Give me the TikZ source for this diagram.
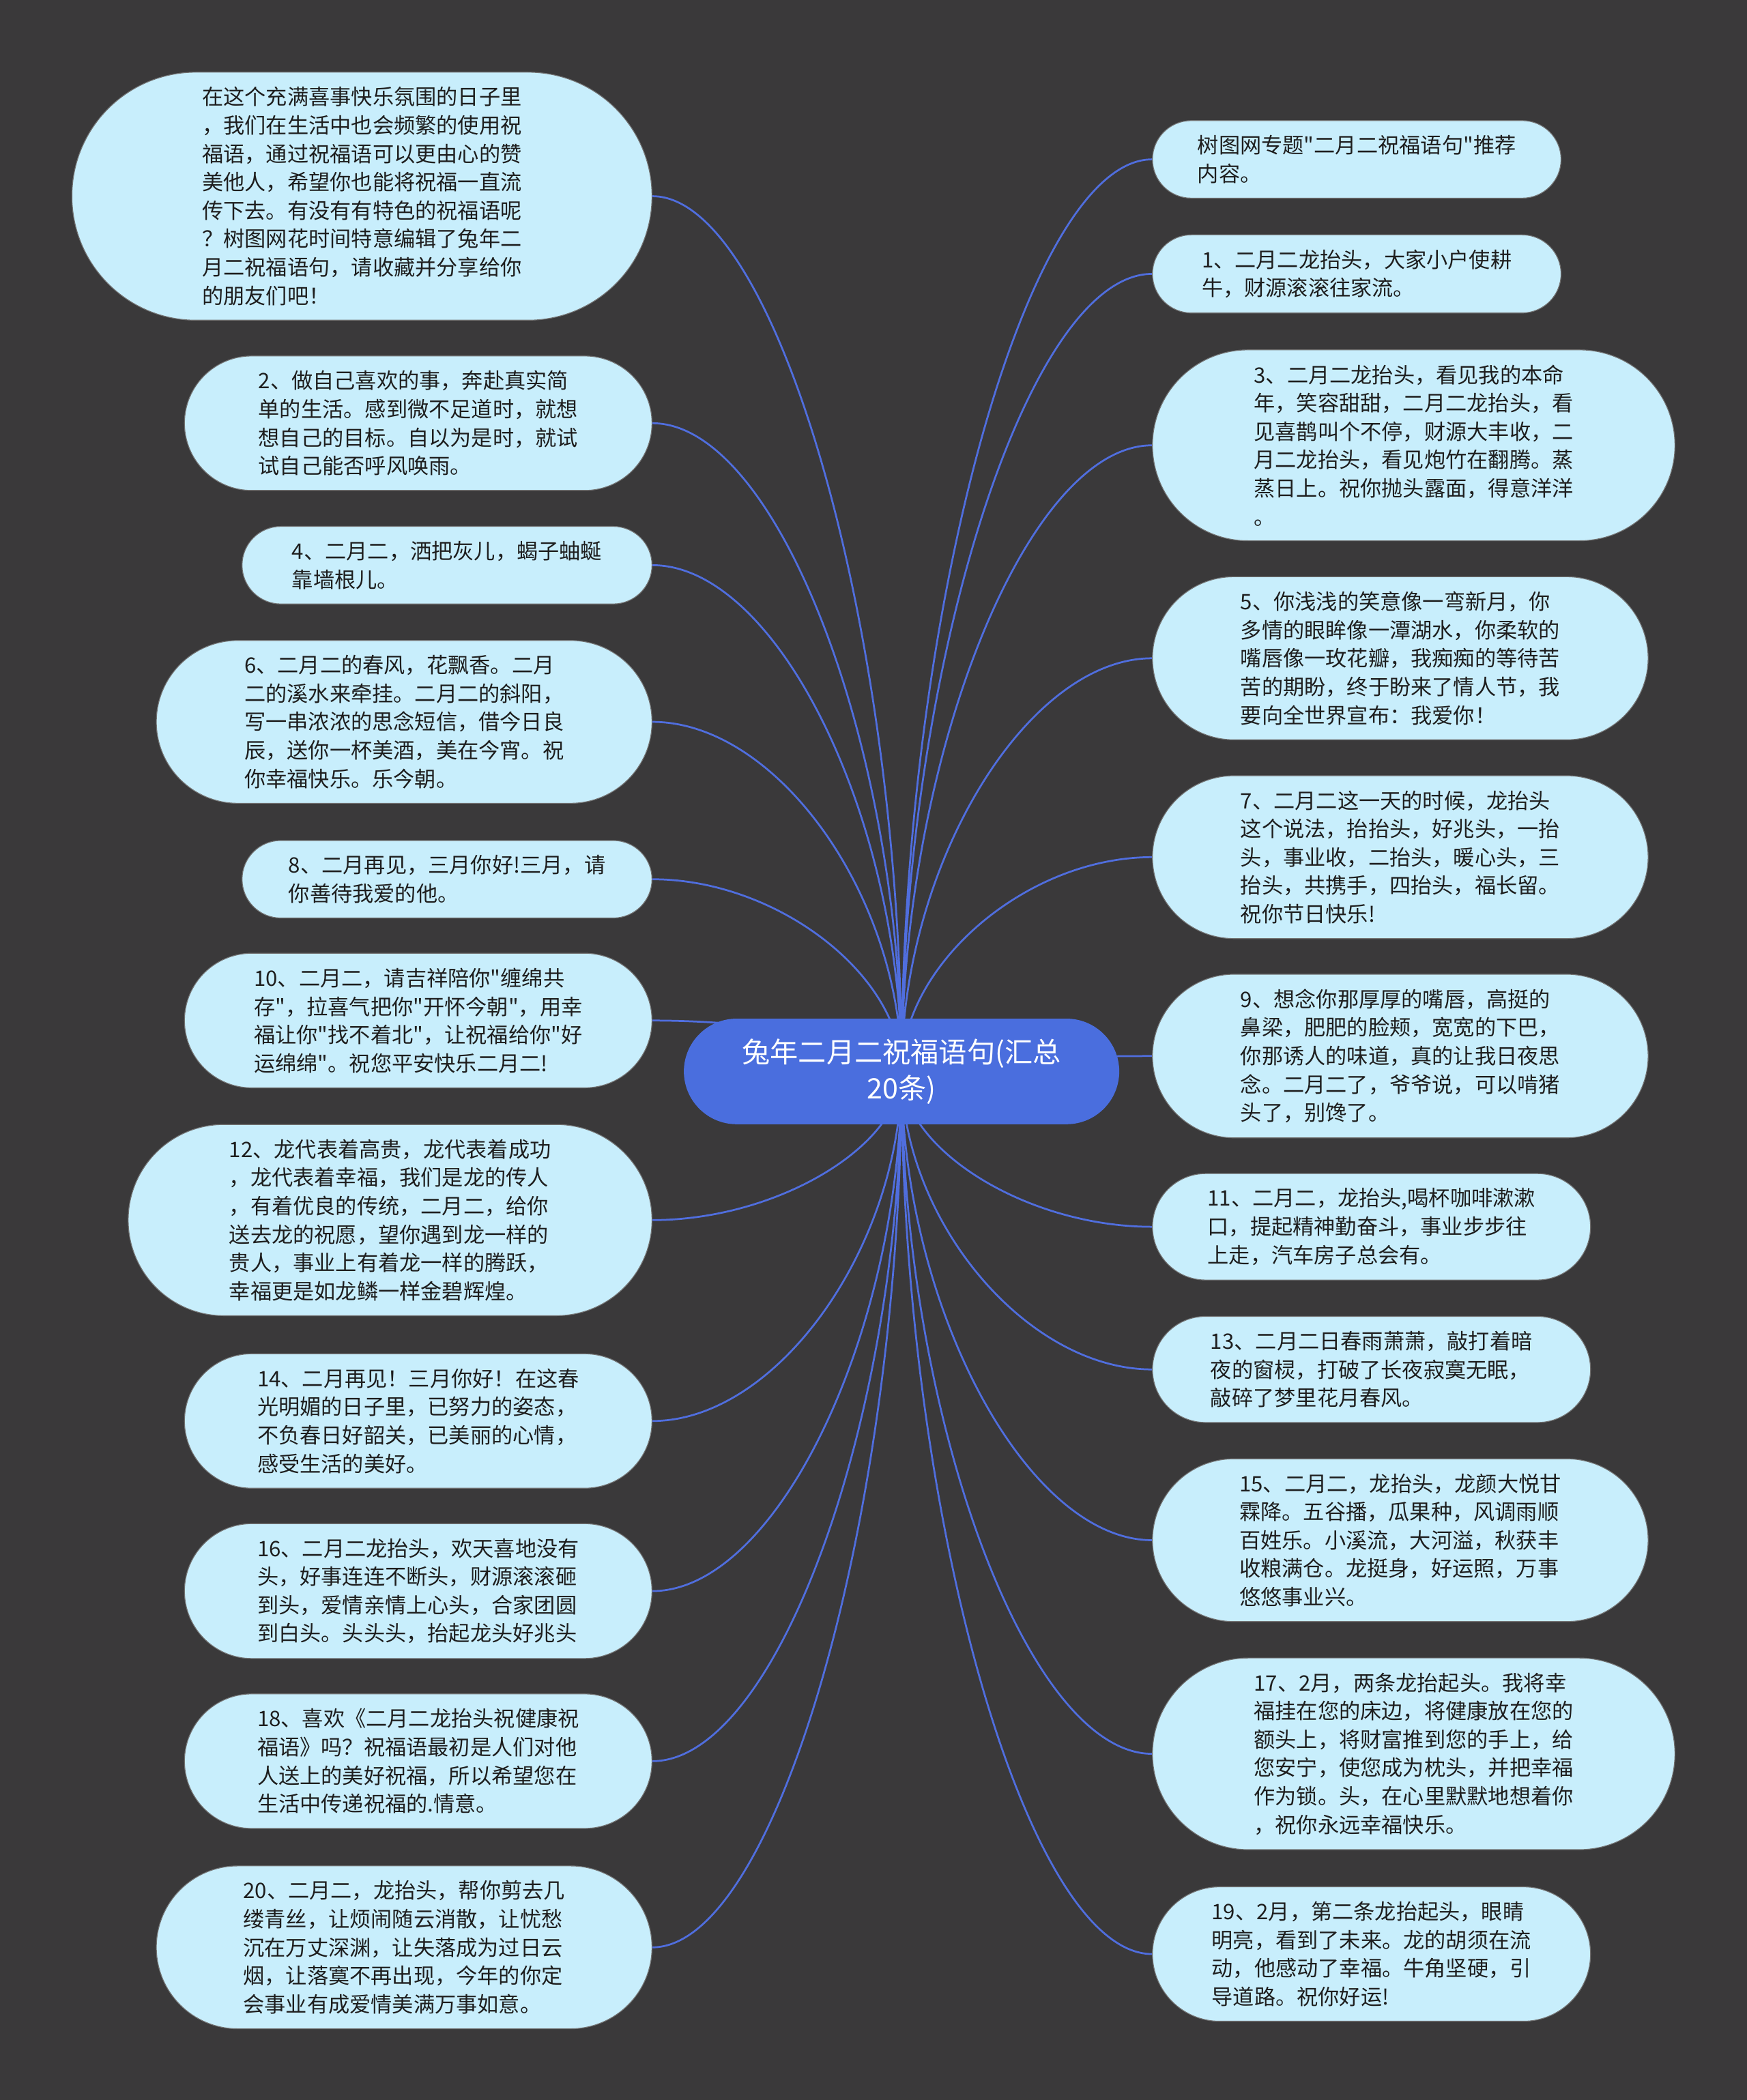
\documentclass[tikz,border=0pt]{standalone}
\usepackage{fontspec}
\newfontfamily\notocjk{Noto Sans CJK SC}
\usetikzlibrary{shapes.misc, calc}
\definecolor{boardgray}{RGB}{58,57,58}
\definecolor{leafblue}{RGB}{200,238,252}
\definecolor{rootblue}{RGB}{74,110,222}
\definecolor{wireblue}{RGB}{80,110,222}
\definecolor{inkgray}{RGB}{30,30,30}
\pgfdeclarelayer{ground}
\pgfdeclarelayer{wires}
\pgfsetlayers{ground,wires,main}

\begin{document}
\begin{tikzpicture}[x=1pt, y=-1pt,
    leaf/.style={draw=black!55, line width=0.6pt, fill=leafblue, rounded rectangle, inner xsep=4pt, inner ysep=11pt, align=left, text=inkgray, font=\notocjk\fontsize{15.9pt}{21.2pt}\selectfont},
    lleaf/.style={leaf, anchor=east, minimum width=#1}, rleaf/.style={leaf, anchor=west, minimum width=#1},
    hub/.style={fill=rootblue, rounded rectangle, minimum width=331pt, inner xsep=3pt, inner ysep=15pt, align=center, text=white, font=\notocjk\fontsize{21pt}{27pt}\selectfont},
    wire/.style={draw=wireblue, line width=1.4pt, to path={let \p1=(\tikztostart), \p2=(\tikztotarget) in .. controls (\x1,{(\y1+\y2)/2}) and ({(\x1+\x2)/2},\y2) .. (\tikztotarget)}}]
    \useasboundingbox (0,0) rectangle (1304,1568);
    \begin{pgfonlayer}{ground}
        \fill[boardgray] (0,0) rectangle (1304,1568);
    \end{pgfonlayer}

    \node[hub] (root) at (673,800) {兔年二月二祝福语句(汇总\\20条)};

    % left column
    \node[lleaf=441pt] (l0) at (487,146.5) {在这个充满喜事快乐氛围的日子里\\，我们在生活中也会频繁的使用祝\\福语，通过祝福语可以更由心的赞\\美他人，希望你也能将祝福一直流\\传下去。有没有有特色的祝福语呢\\？树图网花时间特意编辑了兔年二\\月二祝福语句，请收藏并分享给你\\的朋友们吧！};
    \node[lleaf=357pt] (l2) at (487,316) {2、做自己喜欢的事，奔赴真实简\\单的生活。感到微不足道时，就想\\想自己的目标。自以为是时，就试\\试自己能否呼风唤雨。};
    \node[lleaf=314pt] (l4) at (487,422) {4、二月二，洒把灰儿，蝎子蚰蜒\\靠墙根儿。};
    \node[lleaf=378pt] (l6) at (487,539) {6、二月二的春风，花飘香。二月\\二的溪水来牵挂。二月二的斜阳，\\写一串浓浓的思念短信，借今日良\\辰，送你一杯美酒，美在今宵。祝\\你幸福快乐。乐今朝。};
    \node[lleaf=314pt] (l8) at (487,656.5) {8、二月再见，三月你好!三月，请\\你善待我爱的他。};
    \node[lleaf=357pt] (l10) at (487,762) {10、二月二，请吉祥陪你"缠绵共\\存"，拉喜气把你"开怀今朝"，用幸\\福让你"找不着北"，让祝福给你"好\\运绵绵"。祝您平安快乐二月二!};
    \node[lleaf=399pt] (l12) at (487,911) {12、龙代表着高贵，龙代表着成功\\，龙代表着幸福，我们是龙的传人\\，有着优良的传统，二月二，给你\\送去龙的祝愿，望你遇到龙一样的\\贵人，事业上有着龙一样的腾跃，\\幸福更是如龙鳞一样金碧辉煌。};
    \node[lleaf=357pt] (l14) at (487,1061) {14、二月再见！三月你好！在这春\\光明媚的日子里，已努力的姿态，\\不负春日好韶关，已美丽的心情，\\感受生活的美好。};
    \node[lleaf=357pt] (l16) at (487,1188) {16、二月二龙抬头，欢天喜地没有\\头，好事连连不断头，财源滚滚砸\\到头，爱情亲情上心头，合家团圆\\到白头。头头头，抬起龙头好兆头};
    \node[lleaf=357pt] (l18) at (487,1315) {18、喜欢《二月二龙抬头祝健康祝\\福语》吗？祝福语最初是人们对他\\人送上的美好祝福，所以希望您在\\生活中传递祝福的.情意。};
    \node[lleaf=378pt] (l20) at (487,1454) {20、二月二，龙抬头，帮你剪去几\\缕青丝，让烦闹随云消散，让忧愁\\沉在万丈深渊，让失落成为过日云\\烟，让落寞不再出现，今年的你定\\会事业有成爱情美满万事如意。};

    % right column
    \node[rleaf=313pt] (r0) at (860,119) {树图网专题"二月二祝福语句"推荐\\内容。};
    \node[rleaf=313pt] (r1) at (860,204.5) {1、二月二龙抬头，大家小户使耕\\牛，财源滚滚往家流。};
    \node[rleaf=398pt] (r3) at (860,332.5) {3、二月二龙抬头，看见我的本命\\年，笑容甜甜，二月二龙抬头，看\\见喜鹊叫个不停，财源大丰收，二\\月二龙抬头，看见炮竹在翻腾。蒸\\蒸日上。祝你抛头露面，得意洋洋\\。};
    \node[rleaf=378pt] (r5) at (860,491.5) {5、你浅浅的笑意像一弯新月，你\\多情的眼眸像一潭湖水，你柔软的\\嘴唇像一玫花瓣，我痴痴的等待苦\\苦的期盼，终于盼来了情人节，我\\要向全世界宣布：我爱你！};
    \node[rleaf=378pt] (r7) at (860,640) {7、二月二这一天的时候，龙抬头\\这个说法，抬抬头，好兆头，一抬\\头，事业收，二抬头，暖心头，三\\抬头，共携手，四抬头，福长留。\\祝你节日快乐!};
    \node[rleaf=378pt] (r9) at (860,788.5) {9、想念你那厚厚的嘴唇，高挺的\\鼻梁，肥肥的脸颊，宽宽的下巴，\\你那诱人的味道，真的让我日夜思\\念。二月二了，爷爷说，可以啃猪\\头了，别馋了。};
    \node[rleaf=335pt] (r11) at (860,916) {11、二月二，龙抬头,喝杯咖啡漱漱\\口，提起精神勤奋斗，事业步步往\\上走，汽车房子总会有。};
    \node[rleaf=335pt] (r13) at (860,1022.5) {13、二月二日春雨萧萧，敲打着暗\\夜的窗棂，打破了长夜寂寞无眠，\\敲碎了梦里花月春风。};
    \node[rleaf=378pt] (r15) at (860,1150) {15、二月二，龙抬头，龙颜大悦甘\\霖降。五谷播，瓜果种，风调雨顺\\百姓乐。小溪流，大河溢，秋获丰\\收粮满仓。龙挺身，好运照，万事\\悠悠事业兴。};
    \node[rleaf=398pt] (r17) at (860,1309.5) {17、2月，两条龙抬起头。我将幸\\福挂在您的床边，将健康放在您的\\额头上，将财富推到您的手上，给\\您安宁，使您成为枕头，并把幸福\\作为锁。头，在心里默默地想着你\\，祝你永远幸福快乐。};
    \node[rleaf=335pt] (r19) at (860,1459) {19、2月，第二条龙抬起头，眼睛\\明亮，看到了未来。龙的胡须在流\\动，他感动了幸福。牛角坚硬，引\\导道路。祝你好运!};

    \begin{pgfonlayer}{wires}
        \draw[wire] (root.center) to (l0.east) (root.center) to (l2.east) (root.center) to (l4.east) (root.center) to (l6.east);
        \draw[wire] (root.center) to (l8.east) (root.center) to (l10.east) (root.center) to (l12.east) (root.center) to (l14.east);
        \draw[wire] (root.center) to (l16.east) (root.center) to (l18.east) (root.center) to (l20.east);
        \draw[wire] (root.center) to (r0.west) (root.center) to (r1.west) (root.center) to (r3.west) (root.center) to (r5.west);
        \draw[wire] (root.center) to (r7.west) (root.center) to (r9.west) (root.center) to (r11.west) (root.center) to (r13.west);
        \draw[wire] (root.center) to (r15.west) (root.center) to (r17.west) (root.center) to (r19.west);
    \end{pgfonlayer}
\end{tikzpicture}
\end{document}
